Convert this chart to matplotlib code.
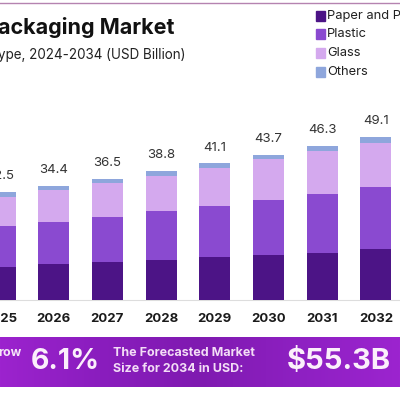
import matplotlib
matplotlib.use("Agg")

import matplotlib.pyplot as plt
import numpy as np
from matplotlib.colors import LinearSegmentedColormap
from matplotlib.patches import Rectangle

plt.rcParams["font.family"] = ["Inter", "DejaVu Sans"]

years = ["2025", "2026", "2027", "2028", "2029", "2030", "2031", "2032"]
paper = [10.0, 10.9, 11.5, 12.1, 13.0, 13.6, 14.2, 15.4]
plastic = [12.3, 12.6, 13.6, 14.7, 15.4, 16.6, 17.8, 18.7]
glass = [8.8, 9.7, 10.2, 10.6, 11.2, 12.1, 12.7, 13.3]
others = [1.4, 1.2, 1.2, 1.4, 1.5, 1.4, 1.6, 1.7]
totals = [32.5, 34.4, 36.5, 38.8, 41.1, 43.7, 46.3, 49.1]

series_names = ["Paper and Paperboard", "Plastic", "Glass", "Others"]
colors = ["#4C1486", "#8A4AD0", "#D4A9EE", "#8EA6DC"]

fig = plt.figure(figsize=(4, 4), dpi=100)
fig.patch.set_facecolor("white")

ax = fig.add_axes([0, 0.25, 1, 0.5])
x = np.arange(len(years))
bottom = np.zeros(len(years))
for vals, col, name in zip([paper, plastic, glass, others], colors, series_names):
    ax.bar(x, vals, bottom=bottom, width=0.58, color=col, label=name, zorder=3)
    bottom += np.array(vals)

for xi, tot in zip(x, totals):
    ax.annotate(f"{tot}", (xi, tot), xytext=(0, 7), textcoords="offset points",
                ha="center", va="bottom", fontsize=9.5, color="#333333")

ax.set_xlim(-0.0, 7.45)
ax.set_ylim(0, 60.2)
ax.set_xticks(x)
ax.set_xticklabels(years, fontsize=9.5, fontweight="bold", color="#1a1a1a")
ax.tick_params(axis="x", length=0, pad=9)
ax.set_yticks([])
for side in ["top", "left", "right"]:
    ax.spines[side].set_visible(False)
ax.spines["bottom"].set_color("#dddddd")
ax.spines["bottom"].set_linewidth(0.8)
ax.set_facecolor("none")

# title and subtitle, cut off at the left edge
fig.text(-0.004, 0.932, "ackaging Market", fontsize=15.5, fontweight="bold",
         color="#111111", ha="left", va="center")
fig.text(-0.004, 0.862, "ype, 2024-2034 (USD Billion)", fontsize=9.7,
         color="#222222", ha="left", va="center")

# top border line
fig.add_artist(plt.Line2D([0, 1], [0.992, 0.992], color="#B583B0", linewidth=1.0))

# legend
leg_y = [0.960, 0.915, 0.868, 0.820]
for yy, col, name in zip(leg_y, colors, series_names):
    fig.patches.append(Rectangle((0.790, yy - 0.013), 0.022, 0.026,
                                 transform=fig.transFigure, color=col))
    fig.text(0.818, yy, name, fontsize=9.3, color="#222222", ha="left", va="center")

# bottom banner with gradient
bax = fig.add_axes([0, 0.033, 1, 0.125])
cmap = LinearSegmentedColormap.from_list("band", ["#9C23CE", "#8A1DBE", "#7F1AB0", "#8E20C2", "#9C24CF"])
grad = np.linspace(0, 1, 256).reshape(1, -1)
bax.imshow(grad, aspect="auto", cmap=cmap, extent=[0, 1, 0, 1])
bax.set_axis_off()

fig.text(-0.005, 0.117, "row", fontsize=9, fontweight="bold", color="#F6E6F8",
         ha="left", va="center")
fig.text(0.078, 0.097, "6.1%", fontsize=20.5, fontweight="bold", color="#FBEFFB",
         ha="left", va="center")
fig.text(0.283, 0.118, "The Forecasted Market", fontsize=9, fontweight="bold",
         color="#F3DDF6", ha="left", va="center")
fig.text(0.283, 0.078, "Size for 2034 in USD:", fontsize=9, fontweight="bold",
         color="#F3DDF6", ha="left", va="center")
fig.text(0.718, 0.097, "$55.3B", fontsize=21, fontweight="bold", color="#FBEFFB",
         ha="left", va="center")

fig.savefig("out.png", dpi=100)
